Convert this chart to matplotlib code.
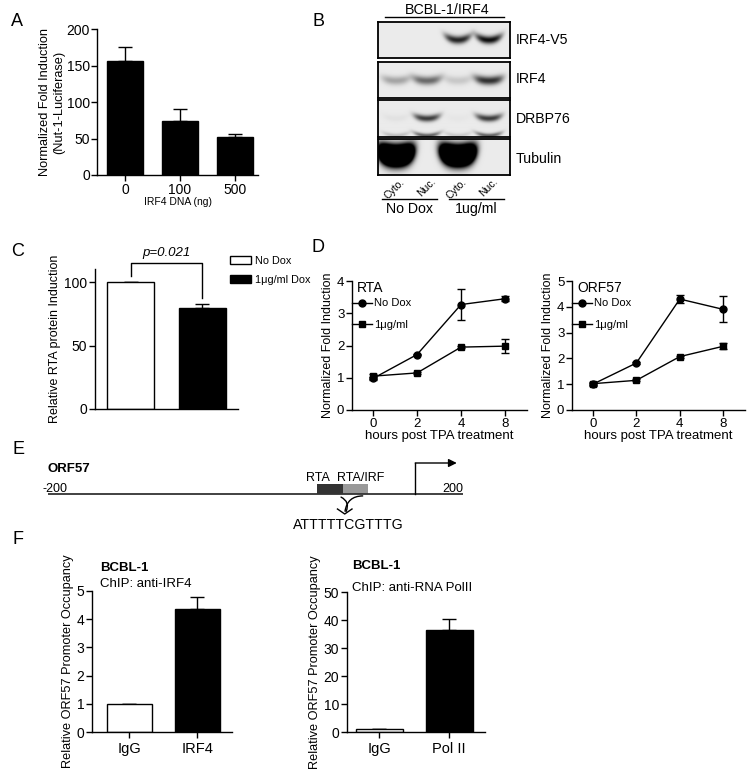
import numpy as np
import matplotlib
matplotlib.use('Agg')
import matplotlib.pyplot as plt
from matplotlib.patches import Patch, FancyArrowPatch
from matplotlib.lines import Line2D

plt.rcParams['font.family'] = ['Liberation Sans', 'DejaVu Sans']

# ---- data ----
# A: Nut-1 luciferase
a_labels = ['0', '100', '500']
a_means = [156, 74, 52]
a_err = [19, 16, 4]

# B: western blot band strengths per lane (0 = none, >1 saturated)
blot_rows = ['IRF4-V5', 'IRF4', 'DRBP76', 'Tubulin']
lane_labels = ['Cyto.', 'Nuc.', 'Cyto.', 'Nuc.']
irf4v5_bands = [0.0, 0.0, 0.85, 0.95]
irf4_bands = [0.3, 0.55, 0.15, 0.8]
drbp76_bands = [0.04, 0.75, 0.02, 0.75]
drbp76_lower = [0.2, 0.6, 0.15, 0.6]
tubulin_bands = [4.0, 0.0, 4.0, 0.0]
treat_labels = ['No Dox', '1ug/ml']

# C: RTA protein
c_groups = ['No Dox', '1μg/ml Dox']
c_means = [100, 80]
c_err = [0, 2.5]
c_pval = 'p=0.021'

# D: time course
d_hours = ['0', '2', '4', '8']
rta_nodox = [0.98, 1.72, 3.27, 3.45]
rta_nodox_err = [0.05, 0.03, 0.47, 0.08]
rta_dox = [1.05, 1.15, 1.95, 1.98]
rta_dox_err = [0.08, 0.03, 0.04, 0.22]
orf57_nodox = [1.0, 1.82, 4.3, 3.9]
orf57_nodox_err = [0.05, 0.04, 0.16, 0.5]
orf57_dox = [1.02, 1.15, 2.07, 2.47]
orf57_dox_err = [0.08, 0.04, 0.04, 0.12]
d_series = ['No Dox', '1μg/ml']

# E: promoter map
e_gene = 'ORF57'
e_range = [-200, 200]
e_sites = ['RTA', 'RTA/IRF']
e_site_start = [59, 84]
e_site_end = [84, 108]
e_tss = 154
e_seq = 'ATTTTTCGTTTG'

# F: ChIP
f_labels_irf4 = ['IgG', 'IRF4']
f_irf4 = [1.0, 4.36]
f_irf4_err = [0, 0.43]
f_labels_pol = ['IgG', 'Pol II']
f_pol = [1.1, 36.4]
f_pol_err = [0, 4.0]

W, H = 751, 779
fig = plt.figure(figsize=(W / 100, H / 100), dpi=100)


def add_ax(left, top, right, bottom):
    return fig.add_axes([left / W, 1 - bottom / H, (right - left) / W, (bottom - top) / H])


def ftext(x, y, s, **kw):
    return fig.text(x / W, 1 - y / H, s, **kw)


def gp_style(ax, size=9.5):
    for s in ['top', 'right']:
        ax.spines[s].set_visible(False)
    for s in ['left', 'bottom']:
        ax.spines[s].set_linewidth(1.0)
    ax.tick_params(direction='out', length=4, width=1.0, labelsize=size, pad=1.5)


def bar_panel(ax, labels, means, err, colors, width, capsize=5):
    x = np.arange(len(means))
    ax.bar(x, means, width=width, color=colors, edgecolor='black', linewidth=1.0, zorder=2)
    ax.errorbar(x, means, yerr=[np.zeros(len(err)), err], fmt='none', ecolor='black',
                elinewidth=1.0, capsize=capsize, capthick=1.0, zorder=1)
    ax.set_xticks(x)
    ax.set_xticklabels(labels)


# panel letters
for lab, px, py in [('A', 17, 22), ('B', 318, 22), ('C', 18, 252), ('D', 318, 247),
                    ('E', 18, 450), ('F', 18, 540)]:
    ftext(px, py, lab, fontsize=13, ha='center', va='center')

# ---- A ----
axA = add_ax(97, 29, 258, 175)
bar_panel(axA, a_labels, a_means, a_err, ['black'] * 3, 0.65)
axA.set_xlim(-0.51, 2.42)
axA.set_ylim(0, 200)
axA.set_yticks([0, 50, 100, 150, 200])
gp_style(axA, size=10)
axA.tick_params(axis='y', pad=1)
axA.set_ylabel('Normalized Fold Induction\n(Nut-1-Luciferase)', fontsize=9.2, labelpad=1,
               linespacing=1.2)
axA.set_xlabel('IRF4 DNA (ng)', fontsize=7.5, labelpad=0)

# ---- B ----
lane_pos = [0.136, 0.371, 0.606, 0.841]


def blot_image(levels, cy, sy, sx, curve, extra=None, px=4, py=2):
    ny, nx = 72, 264
    yy = np.linspace(0, 1, ny)[:, None]
    xx = np.linspace(0, 1, nx)[None, :]
    dark = np.zeros((ny, nx))
    sets = [(levels, cy, sy)]
    if extra is not None:
        sets.append(extra)
    for lv_list, c, s in sets:
        for cx, lv in zip(lane_pos, lv_list):
            dx = (xx - cx) / sx
            yc = c - curve * dx ** 2
            dark += lv * np.exp(-np.abs(dx) ** px) * np.exp(-np.abs((yy - yc) / s) ** py)
    bg = 0.92
    return bg * (1 - np.clip(dark, 0, 1))


blot_specs = [
    dict(levels=irf4v5_bands, cy=0.5, sy=0.11, sx=0.1, curve=0.12),
    dict(levels=irf4_bands, cy=0.52, sy=0.12, sx=0.11, curve=0.08),
    dict(levels=drbp76_bands, cy=0.5, sy=0.09, sx=0.1, curve=0.08,
         extra=(drbp76_lower, 0.97, 0.06)),
    dict(levels=tubulin_bands, cy=0.47, sy=0.26, sx=0.13, curve=0.12, px=4, py=2),
]
row_boxes = [(22, 58), (62, 98), (100, 137), (139, 175)]
row_label_y = [40, 79, 119, 159]
for (top, bot), spec, name, ly in zip(row_boxes, blot_specs, blot_rows, row_label_y):
    axb = add_ax(378, top, 510, bot)
    axb.imshow(blot_image(**spec), cmap='gray', vmin=0, vmax=1, aspect='auto',
               interpolation='bilinear')
    axb.set_xticks([])
    axb.set_yticks([])
    for s in axb.spines.values():
        s.set_linewidth(1.3)
    ftext(516, ly, name, fontsize=10.2, ha='left', va='center')

ftext(447, 10, 'BCBL-1/IRF4', fontsize=10.3, ha='center', va='center')
fig.add_artist(Line2D([385 / W, 504 / W], [1 - 17 / H, 1 - 17 / H], color='black', lw=1.0))
for lp, ll in zip(lane_pos, lane_labels):
    ftext(378 + lp * 132 + 7, 180, ll, fontsize=7.5, rotation=45, rotation_mode='anchor',
          ha='right', va='center')
for (x0, x1), tl in zip([(382, 437), (449, 504)], treat_labels):
    fig.add_artist(Line2D([x0 / W, x1 / W], [1 - 199 / H, 1 - 199 / H], color='black', lw=1.0))
    ftext((x0 + x1) / 2, 209, tl, fontsize=10.2, ha='center', va='center')

# ---- C ----
axC = add_ax(95, 269, 238, 409)
xc = np.arange(len(c_means))
axC.bar(xc, c_means, width=0.66, color=['white', 'black'], edgecolor='black', linewidth=1.0,
        zorder=2)
axC.errorbar(xc, c_means, yerr=[np.zeros(2), c_err], fmt='none', ecolor='black',
             elinewidth=1.0, capsize=5, capthick=1.0, zorder=1)
axC.set_xlim(-0.5, 1.5)
axC.set_ylim(0, 110.5)
axC.set_yticks([0, 50, 100])
axC.set_xticks([])
gp_style(axC, size=10)
axC.set_ylabel('Relative RTA protein Induction', fontsize=9, labelpad=2)
axC.plot([0, 0, 1, 1], [105, 115, 115, 88], color='black', lw=1.0, clip_on=False)
axC.text(0.5, 123, c_pval, fontsize=9.5, style='italic', ha='center', va='center')
handles = [Patch(facecolor='white', edgecolor='black', lw=1.0),
           Patch(facecolor='black', edgecolor='black', lw=1.0)]
fig.legend(handles, c_groups, loc='upper left', bbox_to_anchor=(230 / W, 1 - 256 / H),
           frameon=False, fontsize=7.8, handlelength=1.9, handleheight=0.75,
           handletextpad=0.4, labelspacing=0.85, borderpad=0, borderaxespad=0)

# ---- D ----
d_panels = [
    ((352, 281, 527, 410), 4, 'RTA', rta_nodox, rta_nodox_err, rta_dox, rta_dox_err),
    ((572, 281, 745, 410), 5, 'ORF57', orf57_nodox, orf57_nodox_err, orf57_dox, orf57_dox_err),
]
for box, ymax, name, nd, nde, dx_, dxe in d_panels:
    axD = add_ax(*box)
    xd = np.arange(len(d_hours))
    axD.errorbar(xd, nd, yerr=nde, color='black', marker='o', ms=5, lw=1.0,
                 capsize=3, capthick=1.0, elinewidth=1.0, clip_on=False)
    axD.errorbar(xd, dx_, yerr=dxe, color='black', marker='s', ms=5, lw=1.0,
                 capsize=3, capthick=1.0, elinewidth=1.0, clip_on=False)
    axD.set_xlim(-0.48, 3.5)
    axD.set_ylim(0, ymax)
    axD.set_yticks(range(ymax + 1))
    axD.set_xticks(xd)
    axD.set_xticklabels(d_hours)
    gp_style(axD, size=9.5)
    axD.set_ylabel('Normalized Fold Induction', fontsize=9, labelpad=2)
    axD.set_xlabel('hours post TPA treatment', fontsize=9.5, labelpad=0)
    axD.text(0.03, 0.945, name, transform=axD.transAxes, fontsize=10, ha='left', va='center')
    leg_handles = [Line2D([], [], color='black', lw=1.0, marker='o', ms=5),
                   Line2D([], [], color='black', lw=1.0, marker='s', ms=5)]
    axD.legend(leg_handles, d_series, loc='upper left', bbox_to_anchor=(0.0, 0.865),
               frameon=False, fontsize=8, handlelength=1.8, handletextpad=0.2,
               labelspacing=1.05, borderpad=0, borderaxespad=0, numpoints=1)

# ---- E ----
axE = add_ax(48, 455, 463, 530)
axE.set_xlim(e_range)
axE.set_ylim(-36, 39)
axE.axis('off')
axE.plot(e_range, [0, 0], color='#333333', lw=1.3)
for s0, s1, col in zip(e_site_start, e_site_end, ['#333333', '#999999']):
    axE.bar((s0 + s1) / 2, 10, width=s1 - s0, bottom=0, color=col, edgecolor='none')
axE.text(e_site_end[0] - 12, 16, e_sites[0], fontsize=9, ha='right', va='center')
axE.text(e_site_start[1] - 5, 16, e_sites[1], fontsize=9, ha='left', va='center')
axE.plot([e_tss, e_tss], [0, 31], color='black', lw=1.0)
axE.annotate('', xy=(194, 31), xytext=(e_tss, 31),
             arrowprops=dict(arrowstyle='-|>', color='black', lw=1.0, mutation_scale=12,
                             shrinkA=0, shrinkB=0))
axE.text(e_range[0] - 5, 5, '-200', fontsize=9, ha='left', va='center')
axE.text(e_range[1], 5, '200', fontsize=9, ha='right', va='center')
axE.text(e_range[0], 25, e_gene, fontsize=9.5, fontweight='bold', ha='left', va='center')
tip = 86
axE.add_patch(FancyArrowPatch((e_site_end[0] - 4, -2), (tip, -20),
                              connectionstyle='arc3,rad=-0.6', arrowstyle='-', lw=1.0,
                              color='black'))
axE.add_patch(FancyArrowPatch((e_site_end[1] - 2, -2), (tip, -20),
                              connectionstyle='arc3,rad=0.5', arrowstyle='-', lw=1.0,
                              color='black'))
axE.plot([tip - 7, tip, tip + 7], [-15, -20, -15], color='black', lw=1.0)
axE.text(89, -31, e_seq, fontsize=10.2, ha='center', va='center')

# ---- F ----
f_panels = [
    ((92, 591, 232, 732), f_labels_irf4, f_irf4, f_irf4_err, 5, [0, 1, 2, 3, 4, 5],
     (-0.55, 1.51), 'ChIP: anti-IRF4', 100, (568, 584)),
    ((347, 592, 485, 732), f_labels_pol, f_pol, f_pol_err, 50, [0, 10, 20, 30, 40, 50],
     (-0.46, 1.51), 'ChIP: anti-RNA PolII', 352, (566, 588)),
]
for box, labs, vals, errs, ymax, yt, xl, chip, tx, (ty1, ty2) in f_panels:
    axF = add_ax(*box)
    bar_panel(axF, labs, vals, errs, ['white', 'black'], 0.67)
    axF.set_xlim(xl)
    axF.set_ylim(0, ymax)
    axF.set_yticks(yt)
    gp_style(axF, size=10)
    axF.tick_params(axis='x', labelsize=10.5, pad=3)
    axF.set_ylabel('Relative ORF57 Promoter Occupancy', fontsize=9.2, labelpad=2)
    ftext(tx, ty1, 'BCBL-1', fontsize=9.5, fontweight='bold', ha='left', va='center')
    ftext(tx, ty2, chip, fontsize=9.5, ha='left', va='center')

fig.savefig('out.png', dpi=100)
